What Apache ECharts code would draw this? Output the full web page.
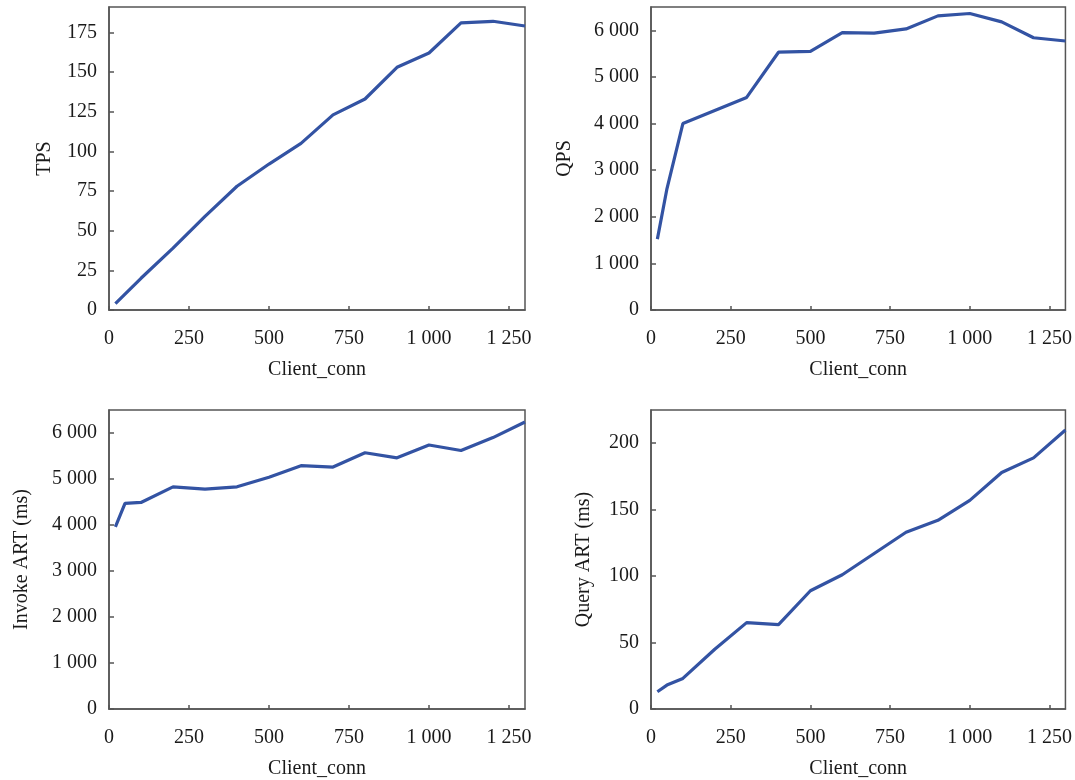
<!DOCTYPE html>
<html>
<head>
<meta charset="utf-8">
<script src="https://cdn.jsdelivr.net/npm/echarts@6/dist/echarts.min.js"></script>
<style>
html,body{margin:0;padding:0;background:#fff;}
#main{width:1075px;height:780px;}
</style>
</head>
<body>
<div id="main"></div>
<script>
// Client connections (x values shared by all four panels)
var clientConn = [20, 50, 100, 200, 300, 400, 500, 600, 700, 800, 900, 1000, 1100, 1200, 1300];
// Series values
var tps = [4, 10, 20, 39, 59, 78, 92, 105, 123, 133, 153, 162, 181, 182, 179];
var qps = [1520, 2600, 4000, 4280, 4560, 5530, 5550, 5950, 5940, 6030, 6310, 6360, 6180, 5840, 5770];
var invokeArt = [3960, 4470, 4490, 4830, 4780, 4830, 5040, 5290, 5260, 5570, 5460, 5740, 5620, 5900, 6240];
var queryArt = [13, 18, 23, 45, 65, 63.5, 89, 101, 117, 133, 142, 157, 178, 189, 210];
// Axis names
var xName = 'Client_conn';
var yNames = ['TPS', 'QPS', 'Invoke ART (ms)', 'Query ART (ms)'];

function pairs(ys) {
  return clientConn.map(function (c, i) { return [c, ys[i]]; });
}
function fmt(v) {
  var s = String(Math.round(v));
  if (s.length > 3) s = s.slice(0, s.length - 3) + ' ' + s.slice(s.length - 3);
  return s;
}

var FONT = 'Liberation Serif';
var TXT = '#1a1a1a';
var AX = '#555555';

var grids = [
  {left: 109, right: 550, top: 7, bottom: 470},
  {left: 651, right: 9, top: 7, bottom: 470},
  {left: 109, right: 550, top: 410, bottom: 66},
  {left: 651, right: 9, top: 410, bottom: 66}
].map(function (g) {
  return Object.assign({show: true, borderColor: AX, borderWidth: 1.5, backgroundColor: 'transparent'}, g);
});

var yCfg = [
  {max: 191, interval: 25, gap: 54},
  {max: 6500, interval: 1000, gap: 76},
  {max: 6500, interval: 1000, gap: 77},
  {max: 225, interval: 50, gap: 57}
];

var xAxes = grids.map(function (g, i) {
  return {
    type: 'value', gridIndex: i, min: 0, max: 1300, interval: 250,
    name: xName, nameLocation: 'middle', nameGap: 50,
    nameTextStyle: {fontFamily: FONT, fontSize: 20, color: TXT},
    axisLine: {show: true, lineStyle: {color: AX, width: 1.5}},
    axisTick: {show: true, inside: true, length: 4, lineStyle: {color: AX, width: 1.5}},
    axisLabel: {fontFamily: FONT, fontSize: 20, color: TXT, margin: 19, showMaxLabel: false, formatter: fmt},
    splitLine: {show: false}
  };
});

var yAxes = grids.map(function (g, i) {
  var c = yCfg[i];
  return {
    type: 'value', gridIndex: i, min: 0, max: c.max, interval: c.interval,
    name: yNames[i], nameLocation: 'middle', nameGap: c.gap, nameRotate: 90,
    nameTextStyle: {fontFamily: FONT, fontSize: 20, color: TXT},
    axisLine: {show: true, lineStyle: {color: AX, width: 1.5}},
    axisTick: {show: true, inside: true, length: 5, lineStyle: {color: AX, width: 1.5}},
    axisLabel: {fontFamily: FONT, fontSize: 20, color: TXT, margin: 12, showMaxLabel: false, formatter: fmt},
    splitLine: {show: false}
  };
});

var datasets = [tps, qps, invokeArt, queryArt];
var series = datasets.map(function (d, i) {
  return {
    type: 'line', xAxisIndex: i, yAxisIndex: i, data: pairs(d),
    symbol: 'none', smooth: false,
    lineStyle: {color: '#3353a3', width: 3.2},
    clip: true
  };
});

var chart = echarts.init(document.getElementById('main'), null, {renderer: 'canvas'});
chart.setOption({
  animation: false,
  backgroundColor: '#ffffff',
  grid: grids,
  xAxis: xAxes,
  yAxis: yAxes,
  series: series
});
</script>
</body>
</html>
